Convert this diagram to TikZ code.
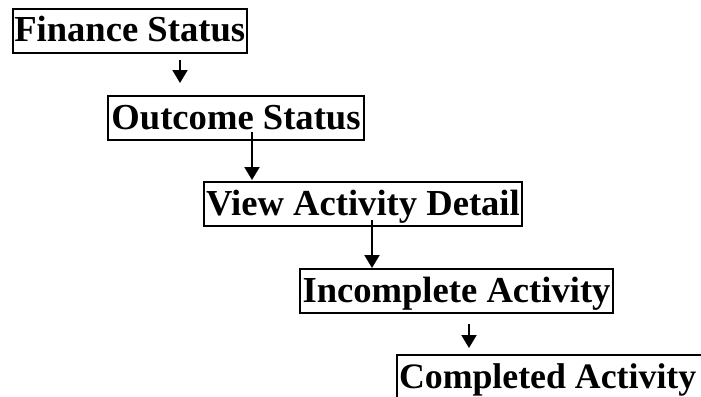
\documentclass[tikz,border=0pt]{standalone}
\usepackage{fontspec}
\setmainfont{Liberation Serif}
\usetikzlibrary{arrows.meta,calc}
\begin{document}
\begin{tikzpicture}[x=1pt,y=-1pt,
  box/.style={draw,line width=2pt,inner xsep=0pt,inner ysep=0pt,outer sep=0pt,
    minimum height=44pt,anchor=north west,text height=30pt,text depth=8pt,
    font=\bfseries\fontsize{36.6}{40}\selectfont},
  conn/.style={line width=2pt,-{Triangle[width=15pt,length=13pt]}}]
\path[use as bounding box,clip] (0,0) rectangle (701,396);
\node[box,minimum width=234pt] (fin) at (12.7,9) {Finance Status};
\node[box,minimum width=256pt] (out) at (108,96) {Outcome Status};
\node[box,minimum width=318pt] (view) at (204,182) {View Activity Detail};
\node[box,minimum width=313pt] (inc) at (300,269) {Incomplete Activity};
\node[box,inner xsep=2pt,font=\bfseries\fontsize{35.8}{40}\selectfont] (comp) at (397,355) {Completed Activity\hspace*{4pt}};
\coordinate (a1s) at ($(fin.south west)+(167.3,7)$);
\coordinate (a1e) at ($(out.north west)+(72,-13)$);
\coordinate (a2s) at ($(out.south west)+(144,-8)$);
\coordinate (a2e) at ($(view.north west)+(48,-2)$);
\coordinate (a3s) at ($(view.south west)+(168,-6)$);
\coordinate (a3e) at ($(inc.north west)+(72,-1)$);
\coordinate (a4s) at ($(inc.south west)+(169,11)$);
\coordinate (a4e) at ($(comp.north west)+(72,-7)$);
\draw[conn] (a1s) -- (a1e);
\draw[conn] (a2s) -- (a2e);
\draw[conn] (a3s) -- (a3e);
\draw[conn] (a4s) -- (a4e);
\end{tikzpicture}
\end{document}
